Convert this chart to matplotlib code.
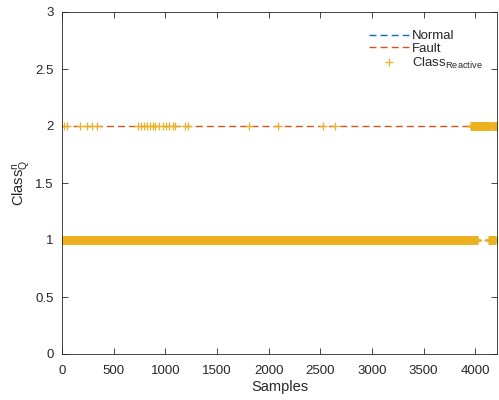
import numpy as np
import matplotlib
matplotlib.use('Agg')
import matplotlib.pyplot as plt

# data
n_samples = 4210
fault_points = [20, 45, 178, 245, 290, 340, 735, 760, 790, 820, 850, 880, 905,
                940, 975, 1010, 1040, 1075, 1095, 1190, 1215, 1810, 2095, 2530, 2645]
fault_ranges = [(3958, 3966), (3980, 3990), (4000, 4008), (4020, 4130),
                (4145, 4152), (4170, 4178), (4195, 4209)]
normal_level = 1
fault_level = 2

samples = np.arange(1, n_samples + 1)
cls = np.full(n_samples, normal_level, dtype=float)
for p in fault_points:
    cls[p - 1] = fault_level
for a, b in fault_ranges:
    cls[a - 1:b] = fault_level

plt.rcParams['font.family'] = ['Liberation Sans', 'DejaVu Sans']
plt.rcParams['mathtext.fontset'] = 'custom'
plt.rcParams['mathtext.rm'] = 'Liberation Sans'
plt.rcParams['mathtext.it'] = 'Liberation Sans'
plt.rcParams['mathtext.default'] = 'regular'

fig = plt.figure(figsize=(4.99, 4.0), dpi=100)
ax = fig.add_axes([0.1242, 0.115, 0.8718, 0.855])

ax.plot([1, n_samples], [normal_level, normal_level], '--', color='#0072BD',
        lw=1.0, label='Normal', dashes=(5, 3))
ax.plot([1, n_samples], [fault_level, fault_level], '--', color='#D95319',
        lw=1.0, label='Fault', dashes=(5, 3))
ax.plot(samples, cls, '+', color='#EDB120', ms=6, mew=0.9,
        label=r'Class$_{Reactive}$')

ax.set_xlim(0, n_samples)
ax.set_ylim(0, 3)
ax.set_xticks(np.arange(0, 4001, 500))
ax.set_yticks(np.arange(0, 3.01, 0.5))
ax.set_yticklabels(['0', '0.5', '1', '1.5', '2', '2.5', '3'])
ax.tick_params(direction='in', top=True, right=True, length=4,
               labelsize=9.5, colors='#262626', width=0.6, pad=6)
ax.tick_params(axis='x', pad=8)
for s in ax.spines.values():
    s.set_color('#262626')
    s.set_linewidth(0.6)

ax.set_xlabel('Samples', fontsize=10.5, color='#262626', labelpad=2)
ax.set_ylabel(r'Class$_Q^n$', fontsize=10.5, color='#262626', labelpad=2)

leg = ax.legend(loc='upper right', bbox_to_anchor=(1.0, 0.99), frameon=False,
                handlelength=3.0, borderaxespad=0.7, labelspacing=0.05,
                handletextpad=0.2, prop={'size': 9.5})
for t in leg.get_texts():
    t.set_color('#262626')

fig.savefig('out.png', dpi=100)
